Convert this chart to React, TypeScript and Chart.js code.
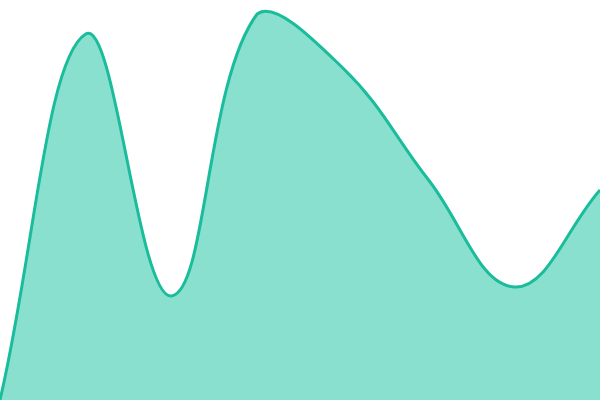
import { Chart, registerables } from 'chart.js'
import { useEffect, useRef } from 'react'

Chart.register(...registerables)

const LABELS = ['1', '2', '3', '4', '5', '6', '7', '8']
const VALUES = [0, 91.5, 26, 96.5, 83, 55, 28.25, 52.5]

const LINE = '#1abc9c'
const FILL = '#8ae0cf'

export default function App() {
  const canvasRef = useRef<HTMLCanvasElement>(null)
  const chartRef = useRef<Chart | null>(null)

  useEffect(() => {
    if (!canvasRef.current) return
    if (chartRef.current) { chartRef.current.destroy() }

    chartRef.current = new Chart(canvasRef.current, {
      type: 'line',
      data: {
        labels: LABELS,
        datasets: [
          {
            data: VALUES,
            borderColor: LINE,
            backgroundColor: FILL,
            borderWidth: 3,
            fill: 'origin',
            tension: 0.4,
            pointRadius: 0,
          },
        ],
      },
      options: {
        animation: false,
        responsive: true,
        maintainAspectRatio: false,
        layout: { padding: 0 },
        plugins: { legend: { display: false }, tooltip: { enabled: false } },
        scales: {
          x: { display: false, offset: false },
          y: { display: false, min: 0, max: 100 },
        },
      },
    })
    return () => { if (chartRef.current) chartRef.current.destroy() }
  }, [])

  return (
    <div style={{ position: 'fixed', left: 0, top: 0, width: 600, height: 400, background: '#fff' }}>
      <canvas ref={canvasRef} />
    </div>
  )
}
